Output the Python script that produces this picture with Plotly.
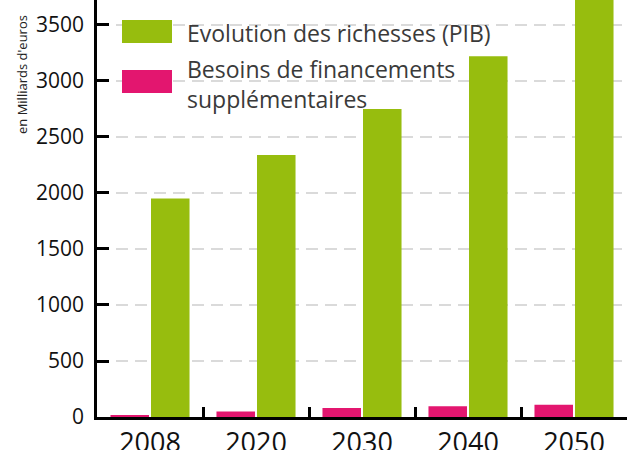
import plotly.graph_objects as go

years = ["2008", "2020", "2030", "2040", "2050"]
pib = [1950, 2340, 2750, 3220, 3800]
besoins = [15, 50, 80, 95, 110]
y_ticks = [0, 500, 1000, 1500, 2000, 2500, 3000, 3500]

GREEN = "#97bd0e"
PINK = "#e3166f"
FONT = "Open Sans"

fig = go.Figure()
fig.add_trace(go.Bar(x=years, y=besoins, name="Besoins de financements supplémentaires",
                     marker=dict(color=PINK, line=dict(width=0))))
fig.add_trace(go.Bar(x=years, y=pib, name="Evolution des richesses (PIB)",
                     marker=dict(color=GREEN, line=dict(width=0))))

fig.update_layout(
    width=640, height=450,
    margin=dict(l=97, r=13, t=0, b=33, autoexpand=False),
    paper_bgcolor="white", plot_bgcolor="white",
    barmode="group", bargap=0.235, bargroupgap=0.05,
    showlegend=False,
    font=dict(family=FONT, color="#111111"),
)
fig.update_xaxes(
    type="category", tickson="boundaries", ticks="inside", ticklen=10, tickwidth=2.5,
    tickcolor="black", showline=True, linecolor="black", linewidth=2.5,
    tickfont=dict(size=27, family=FONT, color="#111111"), showgrid=False,
)
fig.update_yaxes(
    range=[0, 3723], tickvals=y_ticks, ticks="inside", ticklen=12, tickwidth=2.5,
    tickcolor="black", showline=True, linecolor="black", linewidth=2.5,
    tickfont=dict(size=21, family=FONT, color="#111111"), ticklabelstandoff=6,
    showgrid=True, gridcolor="#dadada", gridwidth=2, griddash="12px,7px",
    zeroline=False,
)

def px_x(x):
    return (x - 97) / 530

def px_y(y):
    return 1 - y / 417

# white background behind the legend (hides gridlines, stays under bars)
fig.add_shape(type="rect", xref="paper", yref="paper", layer="between",
              x0=0, x1=px_x(512), y0=px_y(52), y1=1,
              fillcolor="white", line=dict(width=0))
fig.add_shape(type="rect", xref="paper", yref="paper", layer="between",
              x0=0, x1=px_x(462), y0=px_y(110), y1=px_y(50),
              fillcolor="white", line=dict(width=0))

# custom legend
for color, y0, y1 in [(GREEN, 20, 43), (PINK, 70, 93)]:
    fig.add_shape(type="rect", xref="paper", yref="paper", layer="above",
                  x0=px_x(122), x1=px_x(172), y0=px_y(y1), y1=px_y(y0),
                  fillcolor=color, line=dict(width=0))

legend_font = dict(size=23, family=FONT, color="#3a3a3a")
fig.add_annotation(xref="paper", yref="paper", x=px_x(185), y=px_y(33),
                   xanchor="left", yanchor="middle", showarrow=False,
                   text="Evolution des richesses (PIB)", font=legend_font)
fig.add_annotation(xref="paper", yref="paper", x=px_x(185), y=px_y(84),
                   xanchor="left", yanchor="middle", showarrow=False, align="left",
                   text="Besoins de financements<br>supplémentaires", font=legend_font)

# y axis title
fig.add_annotation(xref="paper", yref="paper", x=px_x(22), y=px_y(75),
                   xanchor="center", yanchor="middle", showarrow=False, textangle=-90,
                   text="en Milliards d'euros",
                   font=dict(size=13, family="Liberation Sans Narrow, Open Sans", color="#222222"))

fig.write_html("out.html", config={"displayModeBar": False},
               post_script="document.body.style.margin='0';document.body.style.overflow='hidden';")
